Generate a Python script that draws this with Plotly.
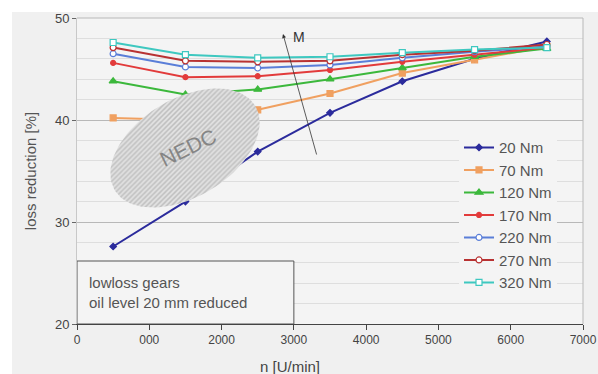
import numpy as np
import plotly.graph_objects as go

speed = [500, 1500, 2500, 3500, 4500, 5500, 6500]
series_names = ["20 Nm", "70 Nm", "120 Nm", "170 Nm", "220 Nm", "270 Nm", "320 Nm"]
v20 = [27.6, 32.0, 36.9, 40.7, 43.8, 46.0, 47.7]
v70 = [40.2, 40.0, 41.0, 42.6, 44.6, 45.9, 47.2]
v120 = [43.8, 42.5, 43.0, 44.0, 45.1, 46.2, 47.0]
v170 = [45.6, 44.2, 44.3, 44.9, 45.7, 46.4, 47.1]
v220 = [46.5, 45.2, 45.1, 45.4, 46.1, 46.7, 47.2]
v270 = [47.1, 45.8, 45.7, 45.8, 46.4, 46.8, 47.4]
v320 = [47.6, 46.4, 46.1, 46.2, 46.6, 46.9, 47.1]
values = [v20, v70, v120, v170, v220, v270, v320]

x_tickvals = [0, 1000, 2000, 3000, 4000, 5000, 6000, 7000]
x_ticktext = ["0", "000", "2000", "3000", "4000", "5000", "6000", "7000"]
y_tickvals = [20, 30, 40, 50]

colors = ["#2b2b9c", "#f0a060", "#3cb83c", "#e23b3b", "#5a7ed8", "#b83232", "#3ec8c0"]
symbols = ["diamond", "square", "triangle-up", "circle", "circle", "circle", "square"]
msizes = [5, 6, 7, 5, 6, 6, 6]
mfill = [None, None, None, None, "white", "white", "white"]

W, H = 598, 374
ML, MR, MT, MB = 77, 15, 18, 50
XR = (0, 7000)
YR = (20, 50)
pw, ph = W - ML - MR, H - MT - MB


def px2x(px):
    return XR[0] + (px - ML) / pw * (XR[1] - XR[0])


def py2y(py):
    return YR[1] - (py - MT) / ph * (YR[1] - YR[0])


fig = go.Figure()
for name, vals, c, s, ms, mf in zip(series_names, values, colors, symbols, msizes, mfill):
    fig.add_trace(go.Scatter(
        x=speed, y=vals, name=name, mode="lines+markers",
        line=dict(color=c, width=2),
        marker=dict(symbol=s, size=ms, color=mf if mf else c,
                    line=dict(color=c, width=1.2)),
    ))

# NEDC hatched ellipse (annotation region)
t = np.linspace(0, 2 * np.pi, 120)
cx, cy, a, b, th = 185, 148, 82, 49, np.deg2rad(31)
ex = cx + a * np.cos(t) * np.cos(th) + b * np.sin(t) * np.sin(th)
ey = cy - a * np.cos(t) * np.sin(th) + b * np.sin(t) * np.cos(th)
fig.add_trace(go.Scatter(
    x=[px2x(p) for p in ex], y=[py2y(p) for p in ey], mode="lines",
    fill="toself", fillcolor="rgba(0,0,0,0)",
    fillpattern=dict(shape="/", fgcolor="#9c9c9c", bgcolor="#e2e2e2", size=3.5, solidity=0.45),
    line=dict(width=0, color="rgba(0,0,0,0)"), showlegend=False, hoverinfo="skip",
))

fig.update_layout(
    width=W, height=H,
    margin=dict(l=ML, r=MR, t=MT, b=MB, autoexpand=False),
    paper_bgcolor="#f0f0f0", plot_bgcolor="#f4f4f4",
    font=dict(family="Liberation Sans, Arial, sans-serif", color="#555555"),
    showlegend=True,
    legend=dict(x=(459 - ML) / pw, y=0.63, xanchor="left", yanchor="top",
                bgcolor="#f4f4f4", font=dict(size=15, color="#555555"),
                tracegroupgap=0, itemwidth=30),
    xaxis=dict(range=list(XR), tickvals=x_tickvals, ticktext=x_ticktext, automargin=False,
               showgrid=False, zeroline=False, showline=True, linecolor="#444444", linewidth=1,
               ticks="outside", ticklen=5, tickcolor="#444444",
               tickfont=dict(size=12, color="#444444")),
    yaxis=dict(range=list(YR), tickvals=y_tickvals, showgrid=True, gridcolor="#b8b8b8",
               automargin=False,
               gridwidth=1, zeroline=False, showline=True, linecolor="#c8c8c8",
               ticks="outside", ticklen=4, tickcolor="#666666",
               tickfont=dict(size=13, color="#444444"),
               minor=dict(dtick=2, showgrid=True, gridcolor="#dedede", gridwidth=1),
               title=dict(text="loss reduction [%]", font=dict(size=15, color="#555555"),
                          standoff=14)),
)

# white strips at top and left edge of the picture
fig.add_shape(type="rect", xref="paper", yref="paper",
              x0=-ML / pw, x1=1 + MR / pw, y0=1 + (MT - 12) / ph, y1=1 + MT / ph,
              fillcolor="white", line=dict(width=0), layer="below")
fig.add_shape(type="rect", xref="paper", yref="paper",
              x0=-ML / pw, x1=-(ML - 12) / pw, y0=-MB / ph, y1=1 + MT / ph,
              fillcolor="white", line=dict(width=0), layer="below")
# plot frame top and right
fig.add_shape(type="line", xref="paper", yref="paper", x0=0, x1=1, y0=1, y1=1,
              line=dict(color="#b8b8b8", width=1))
fig.add_shape(type="line", xref="paper", yref="paper", x0=1, x1=1, y0=0, y1=1,
              line=dict(color="#b8b8b8", width=1))

# info box
fig.add_shape(type="rect", xref="x", yref="y", x0=0, x1=3000, y0=20, y1=py2y(261),
              fillcolor="#f4f4f4", line=dict(color="#555555", width=1), layer="above")
fig.add_annotation(xref="x", yref="y", x=px2x(87), y=py2y(292), xanchor="left", yanchor="middle",
                   text="lowloss gears<br>oil level 20 mm reduced", align="left", showarrow=False,
                   font=dict(size=15, color="#555555"))

# NEDC label
fig.add_annotation(xref="x", yref="y", x=px2x(188), y=py2y(147), text="NEDC", showarrow=False,
                   textangle=-26, font=dict(size=21, color="#858585", family="Liberation Sans, Arial"))

# M arrow
fig.add_annotation(xref="x", yref="y", x=px2x(283), y=py2y(34), axref="x", ayref="y",
                   ax=px2x(317), ay=py2y(156), text="", showarrow=True, arrowhead=2,
                   arrowsize=1, arrowwidth=0.8, arrowcolor="#333333")
fig.add_annotation(xref="x", yref="y", x=px2x(291), y=py2y(37), text="M", showarrow=False,
                   xanchor="left", font=dict(size=14, color="#333333"))

# x-axis title
fig.add_annotation(xref="paper", yref="paper", x=(290 - ML) / pw, y=-(356 - MT - ph) / ph,
                   xanchor="center", yanchor="top", text="n [U/min]", showarrow=False,
                   font=dict(size=15, color="#444444"))

fig.write_html("out.html", config={"displayModeBar": False},
               post_script="document.body.style.margin='0';")
